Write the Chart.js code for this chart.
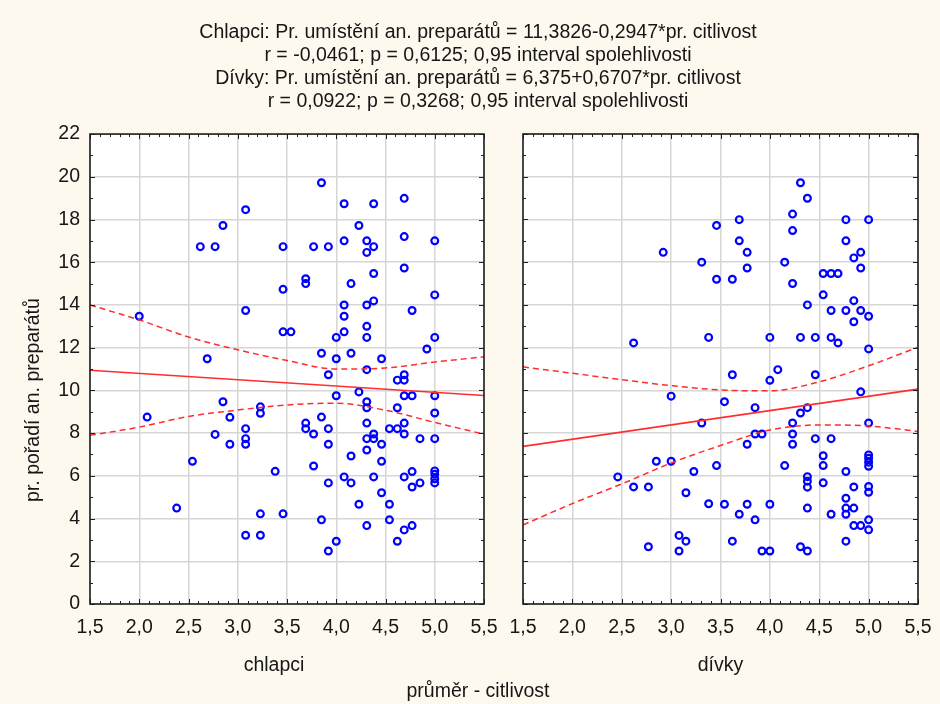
<!DOCTYPE html>
<html>
<head>
<meta charset="utf-8">
<script src="https://cdn.jsdelivr.net/npm/chart.js@4.4.1/dist/chart.umd.min.js"></script>
<style>
html, body { margin: 0; padding: 0; background: #fef9ee; }
#wrap { position: relative; width: 940px; height: 704px; }
#wrap canvas { position: absolute; left: 0; top: 0; }
</style>
</head>
<body>
<div id="wrap">
  <canvas id="left" width="940" height="704"></canvas>
  <canvas id="right" width="940" height="704"></canvas>
</div>
<script>
// ---------------- DATA ----------------
const titleLines = [
  "Chlapci: Pr. umístění an. preparátů = 11,3826-0,2947*pr. citlivost",
  "r = -0,0461; p = 0,6125; 0,95 interval spolehlivosti",
  "Dívky: Pr. umístění an. preparátů = 6,375+0,6707*pr. citlivost",
  "r = 0,0922; p = 0,3268; 0,95 interval spolehlivosti"
];
const yAxisTitle = "pr. pořadí an. preparátů";
const xAxisTitle = "průměr - citlivost";
const panelNames = ["chlapci", "dívky"];

const xMin = 1.5, xMax = 5.5, xStep = 0.5;
const yMin = 0, yMax = 22, yStep = 2;

// chlapci (boys)
const boysX = [
  2.00, 2.08, 2.38, 2.54, 2.62, 2.69, 2.77, 2.77, 2.85, 2.85, 2.92, 2.92,
  3.08, 3.08, 3.08, 3.08, 3.08, 3.08, 3.23, 3.23, 3.23, 3.23, 3.38,
  3.46, 3.46, 3.46, 3.46, 3.54, 3.69, 3.69, 3.69, 3.69,
  3.77, 3.77, 3.77, 3.85, 3.85, 3.85, 3.85,
  3.92, 3.92, 3.92, 3.92, 3.92, 3.92, 4.00, 4.00, 4.00, 4.00,
  4.08, 4.08, 4.08, 4.08, 4.08, 4.08, 4.15, 4.15, 4.15, 4.15,
  4.23, 4.23, 4.23,
  4.31, 4.31, 4.31, 4.31, 4.31, 4.31, 4.31, 4.31, 4.31, 4.31, 4.31, 4.31,
  4.38, 4.38, 4.38, 4.38, 4.38, 4.38, 4.38,
  4.46, 4.46, 4.46, 4.46, 4.54, 4.54, 4.54, 4.62, 4.62, 4.62, 4.62,
  4.69, 4.69, 4.69, 4.69, 4.69, 4.69, 4.69, 4.69, 4.69, 4.69,
  4.77, 4.77, 4.77, 4.77, 4.77, 4.85, 4.85, 4.92,
  5.00, 5.00, 5.00, 5.00, 5.00, 5.00, 5.00, 5.00, 5.00, 5.00
];
const boysY = [
  13.47, 8.75, 4.49, 6.68, 16.73, 11.48, 16.73, 7.94, 9.47, 17.72, 8.74, 7.48,
  18.46, 13.74, 8.21, 7.74, 7.48, 3.22, 9.23, 8.93, 4.22, 3.22, 6.21,
  16.73, 14.73, 12.74, 4.22, 12.74, 15.23, 15.0, 8.47, 8.21,
  16.73, 7.96, 6.46, 19.72, 11.74, 8.75, 3.94,
  16.73, 10.73, 8.21, 7.48, 5.67, 2.48, 12.48, 11.48, 9.75, 2.94,
  18.74, 17.0, 14.0, 13.47, 12.74, 5.95, 15.0, 11.74, 6.93, 5.67,
  17.72, 9.93, 4.67,
  17.0, 16.46, 14.0, 13.0, 12.48, 10.97, 9.47, 9.19, 8.47, 7.74, 7.21, 3.67,
  18.74, 16.73, 15.47, 14.19, 7.96, 7.74, 5.95,
  11.48, 7.48, 6.68, 5.21, 8.21, 4.67, 3.94, 10.48, 9.19, 8.21, 2.94,
  18.99, 17.2, 15.73, 10.73, 10.48, 9.75, 8.47, 7.96, 5.95, 3.47,
  13.74, 9.75, 6.2, 5.48, 3.67, 7.74, 5.67, 11.94,
  17.0, 14.47, 12.48, 9.75, 8.94, 7.74, 6.23, 6.07, 5.86, 5.67
];

// dívky (girls)
const girlsX = [
  2.46, 2.62, 2.62, 2.77, 2.77, 2.85, 2.92, 3.00, 3.00, 3.08, 3.08, 3.15, 3.15,
  3.23, 3.31, 3.31, 3.38, 3.38, 3.46, 3.46, 3.46, 3.54, 3.54,
  3.62, 3.62, 3.62, 3.69, 3.69, 3.69, 3.77, 3.77, 3.77, 3.77,
  3.85, 3.85, 3.85, 3.92, 3.92, 4.00, 4.00, 4.00, 4.00, 4.08, 4.15, 4.15,
  4.23, 4.23, 4.23, 4.23, 4.23, 4.23, 4.31, 4.31, 4.31, 4.31,
  4.38, 4.38, 4.38, 4.38, 4.38, 4.38, 4.38, 4.38,
  4.46, 4.46, 4.46, 4.54, 4.54, 4.54, 4.54, 4.54,
  4.62, 4.62, 4.62, 4.62, 4.62, 4.69, 4.69,
  4.77, 4.77, 4.77, 4.77, 4.77, 4.77, 4.77, 4.77,
  4.85, 4.85, 4.85, 4.85, 4.85, 4.85, 4.92, 4.92, 4.92, 4.92, 4.92,
  5.00, 5.00, 5.00, 5.00, 5.00, 5.00, 5.00, 5.00, 5.00, 5.00, 5.00, 5.00
];
const girlsY = [
  5.95, 12.22, 5.48, 5.48, 2.68, 6.68, 16.46, 9.73, 6.68, 3.21, 2.48, 5.21, 2.94,
  6.2, 16.0, 8.47, 12.48, 4.69, 17.72, 15.2, 6.48, 9.47, 4.67,
  15.2, 10.73, 2.94, 17.99, 17.0, 4.2, 16.46, 15.73, 7.48, 4.67,
  9.19, 7.96, 3.94, 7.96, 2.48, 12.48, 10.47, 4.67, 2.48, 10.97, 16.0, 6.48,
  18.25, 17.48, 15.0, 8.47, 7.96, 7.48, 19.72, 12.48, 8.94, 2.68,
  18.99, 14.0, 9.19, 5.96, 5.75, 5.47, 4.49, 2.48,
  12.48, 10.73, 7.74, 15.47, 14.47, 6.94, 6.48, 5.67,
  15.47, 13.74, 12.48, 7.74, 4.2, 15.47, 12.22,
  17.99, 17.0, 13.74, 6.2, 4.95, 4.49, 4.2, 2.94,
  16.2, 14.2, 13.21, 5.48, 4.49, 3.67, 16.46, 15.73, 13.74, 9.93, 3.67,
  17.99, 13.47, 11.94, 8.47, 6.98, 6.82, 6.64, 6.45, 5.5, 5.23, 3.94, 3.47
];

// regression lines (end points read at x = 1.5 and 5.5)
const fitX = [1.5, 5.5];
const boysFit = [10.94, 9.76];
const girlsFit = [7.38, 10.06];

// 0.95 confidence bands, read at these x positions
const bandX = [1.5, 2.0, 2.5, 3.0, 3.5, 4.0, 4.5, 5.0, 5.5];
const boysUpper = [14.0, 13.3, 12.5, 11.9, 11.4, 11.0, 11.05, 11.33, 11.57];
const boysLower = [7.9, 8.28, 8.78, 9.08, 9.32, 9.4, 9.07, 8.5, 7.95];
const girlsUpper = [11.1, 10.8, 10.5, 10.22, 10.02, 9.98, 10.4, 11.15, 12.02];
const girlsLower = [3.7, 4.7, 5.62, 6.6, 7.42, 8.14, 8.38, 8.33, 8.08];

// ---------------- STYLE ----------------
const FONT = "'Liberation Sans', Arial, Helvetica, sans-serif";
const FS = 19.5;
const TEXT = '#161616';
const RED = '#ff2d2d';
const BLUE = '#0000ff';
const GRID = '#d6d6d6';

Chart.defaults.font.family = FONT;
Chart.defaults.font.size = FS;
Chart.defaults.color = TEXT;

const pts = (xs, ys) => xs.map((x, i) => ({x: x, y: ys[i]}));

function datasets(fitY, up, lo, xs, ys) {
  return [
    { data: pts(fitX, fitY), showLine: true, borderColor: RED, borderWidth: 1.6,
      pointRadius: 0, fill: false },
    { data: pts(bandX, up), showLine: true, borderColor: RED, borderWidth: 1.5,
      borderDash: [6, 4], pointRadius: 0, cubicInterpolationMode: 'monotone', fill: false },
    { data: pts(bandX, lo), showLine: true, borderColor: RED, borderWidth: 1.5,
      borderDash: [6, 4], pointRadius: 0, cubicInterpolationMode: 'monotone', fill: false },
    { data: pts(xs, ys), showLine: false, pointStyle: 'circle', pointRadius: 3.4,
      pointBorderWidth: 2.2, borderColor: BLUE, pointBorderColor: BLUE,
      backgroundColor: 'rgba(0,0,0,0)', pointBackgroundColor: 'rgba(0,0,0,0)' }
  ];
}

const deco = {
  id: 'deco',
  beforeDraw(chart) {
    const {ctx, chartArea: a} = chart;
    ctx.save();
    ctx.fillStyle = '#ffffff';
    ctx.fillRect(a.left, a.top, a.right - a.left, a.bottom - a.top);
    ctx.restore();
  },
  afterDraw(chart, args, opts) {
    const {ctx, chartArea: a, scales: {x, y}} = chart;
    ctx.save();
    ctx.strokeStyle = '#202020';
    ctx.lineWidth = 1;
    ctx.beginPath();
    for (let i = Math.round(xMin * 10); i <= Math.round(xMax * 10); i++) {
      const px = Math.round(x.getPixelForValue(i / 10)) + 0.5;
      const L = (i % 5 === 0) ? 5 : 3;
      ctx.moveTo(px, a.bottom); ctx.lineTo(px, a.bottom - L);
      ctx.moveTo(px, a.top); ctx.lineTo(px, a.top + L);
    }
    for (let j = yMin; j <= yMax; j++) {
      const py = Math.round(y.getPixelForValue(j)) + 0.5;
      const L = (j % 2 === 0) ? 5 : 3;
      ctx.moveTo(a.left, py); ctx.lineTo(a.left + L, py);
      ctx.moveTo(a.right, py); ctx.lineTo(a.right - L, py);
    }
    ctx.stroke();
    ctx.lineWidth = 1.6;
    ctx.strokeRect(a.left, a.top, a.right - a.left, a.bottom - a.top);
    ctx.fillStyle = TEXT;
    ctx.font = FS + 'px ' + FONT;
    ctx.textAlign = 'center';
    ctx.textBaseline = 'middle';
    if (opts && opts.panelTitle) {
      ctx.fillText(opts.panelTitle, (a.left + a.right) / 2 - 13, a.bottom + 62);
    }
    if (opts && opts.yTitle) {
      ctx.translate(34, (a.top + a.bottom) / 2 + 31);
      ctx.rotate(-Math.PI / 2);
      ctx.fillText(opts.yTitle, 0, 0);
    }
    ctx.restore();
  }
};

const xTickCb = v => Number(v).toFixed(1).replace('.', ',');

function xScale(title, titleBottom, height) {
  return {
    type: 'linear', position: 'bottom', min: xMin, max: xMax,
    ticks: { stepSize: xStep, padding: 0, callback: xTickCb, color: TEXT,
             font: { size: FS, lineHeight: 1.2 }, maxRotation: 0, autoSkip: false },
    grid: { color: GRID, lineWidth: 1.5, drawTicks: true, tickLength: 12.3,
            tickColor: 'rgba(0,0,0,0)' },
    border: { display: false },
    title: { display: !!title, text: title || '', color: TEXT, font: { size: FS, lineHeight: 1.2 },
             padding: { top: 0, bottom: titleBottom } },
    afterFit(s) { s.height = height; }
  };
}

function yScale(showTicks, width) {
  return {
    type: 'linear', position: 'left', min: yMin, max: yMax,
    ticks: { display: showTicks, stepSize: yStep, padding: 10, color: TEXT,
             font: { size: FS } },
    grid: { color: GRID, lineWidth: 1.5, drawTicks: false },
    border: { display: false },
    afterFit(s) { s.width = width; }
  };
}

// left panel (chlapci) - also carries the main title and common x title
new Chart(document.getElementById('left'), {
  type: 'scatter',
  data: { datasets: datasets(boysFit, boysUpper, boysLower, boysX, boysY) },
  options: {
    responsive: false, animation: false, devicePixelRatio: 1,
    layout: { padding: { left: 16, right: 0, top: 0, bottom: 0 }, autoPadding: false },
    scales: {
      x: xScale(null, 0, 76.3),
      y: yScale(true, 74),
      yPad: { type: 'linear', position: 'right', display: true,
              grid: { display: false }, border: { display: false },
              ticks: { display: false }, afterFit(s) { s.width = 456; } }
    },
    plugins: {
      legend: { display: false }, tooltip: { enabled: false },
      title: { display: true, text: titleLines, color: TEXT,
               font: { size: FS, weight: 'normal', lineHeight: 1.165 },
               padding: { top: 21.65, bottom: 21.55 } },
      subtitle: { display: true, position: 'bottom', text: xAxisTitle, color: TEXT,
                  font: { size: FS, weight: 'normal', lineHeight: 1.2 },
                  padding: { top: 0, bottom: 0.3 } },
      deco: { yTitle: yAxisTitle, panelTitle: panelNames[0] }
    }
  },
  plugins: [deco]
});

// right panel (dívky)
new Chart(document.getElementById('right'), {
  type: 'scatter',
  data: { datasets: datasets(girlsFit, girlsUpper, girlsLower, girlsX, girlsY) },
  options: {
    responsive: false, animation: false, devicePixelRatio: 1,
    layout: { padding: { top: 134, right: 22, bottom: 0, left: 0 }, autoPadding: false },
    scales: {
      x: xScale(panelNames[1], 26.3, 100),
      y: yScale(false, 523)
    },
    plugins: {
      legend: { display: false }, tooltip: { enabled: false },
      deco: {}
    }
  },
  plugins: [deco]
});
</script>
</body>
</html>
